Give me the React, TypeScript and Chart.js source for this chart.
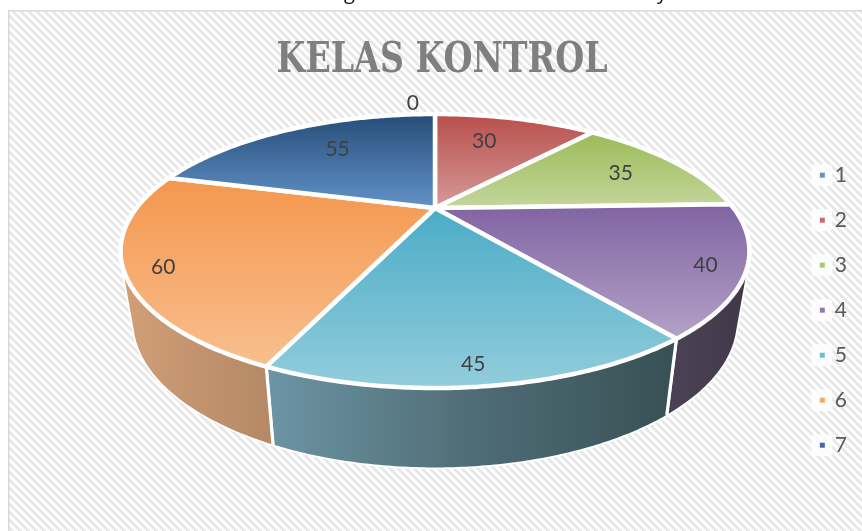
import React, { useEffect, useRef } from "react";
import { Chart, registerables, PieController } from "chart.js";

Chart.register(...registerables);

const categories = ["1", "2", "3", "4", "5", "6", "7"];
const seriesValues = [0, 30, 35, 40, 45, 60, 55];
const legendColors = ["#5f93d0", "#c96b69", "#abc778", "#9579b6", "#6cbcd4", "#f9a564", "#3f6ca3"];
const topFrom = ["#2a4d78", "#b84f4d", "#9bbb59", "#8064a2", "#4bacc6", "#f4974e", "#264d78"];
const topTo = ["#6392c8", "#d69a98", "#c3d69b", "#b3a2c7", "#92cddc", "#f8bf8e", "#6392c8"];
const wallFrom = ["#2a4060", "#7a3a3a", "#6f8a44", "#4b4355", "#6d95a5", "#d1a079", "#2a4060"];
const wallMid = ["#2a4060", "#7a3a3a", "#6f8a44", "#463d50", "#4f6d76", "#c2936e", "#2a4060"];
const wallTo = ["#2a4060", "#7a3a3a", "#6f8a44", "#403746", "#385055", "#b58966", "#2a4060"];
const labelRadii = [1.165, 0.68, 0.75, 0.888, 0.909, 0.895, 0.68];
const labelShiftDeg = [-5, -3.4, 1, 1.5, 1, -2.5, 3];

// perspective of the tilted disc
const HUB_X = 435;
const HUB_Y = 208;
const P = 0.314;
const TOP = { b: 298.5, a: 123.5, y: HUB_Y };
const BOTTOM = { b: 286.5, a: 132, y: 275 };

type Plane = { b: number; a: number; y: number };
const project = (pl: Plane, angle: number, r = 1): [number, number] => {
  const u = Math.cos(angle) * r;
  const v = Math.sin(angle) * r;
  const k = 1 / (1 - P * v);
  return [HUB_X + pl.b * u * k, pl.y + pl.a * v * k];
};

const rimPoints = (pl: Plane, a0: number, a1: number) => {
  const n = Math.max(2, Math.ceil(Math.abs(a1 - a0) / 0.01));
  const pts: [number, number][] = [];
  for (let i = 0; i <= n; i++) pts.push(project(pl, a0 + ((a1 - a0) * i) / n));
  return pts;
};

class Pie3DController extends PieController {
  static id = "pie3d";
  static defaults = PieController.defaults;
  static overrides = PieController.overrides;
  draw() {
    const ctx = (this as any).chart.ctx as CanvasRenderingContext2D;
    const arcs = (this as any)._cachedMeta.data as any[];
    ctx.save();
    ctx.lineJoin = "round";
    // walls first: white halo, then fill
    arcs.forEach((arc, i) => {
      if (arc.endAngle - arc.startAngle <= 0) return;
      const t = rimPoints(TOP, arc.startAngle, arc.endAngle);
      const b = rimPoints(BOTTOM, arc.startAngle, arc.endAngle);
      const xs = [...t, ...b].map((p) => p[0]);
      const g = ctx.createLinearGradient(Math.min(...xs), 0, Math.max(...xs), 0);
      g.addColorStop(0, wallFrom[i]);
      g.addColorStop(0.5, wallMid[i]);
      g.addColorStop(1, wallTo[i]);
      ctx.beginPath();
      for (let k = 0; k < t.length - 1; k++) {
        const q = [t[k], t[k + 1], b[k + 1], b[k]];
        let area = 0;
        for (let m = 0; m < 4; m++) {
          const n = q[(m + 1) % 4];
          area += q[m][0] * n[1] - n[0] * q[m][1];
        }
        const o = area >= 0 ? q : [...q].reverse();
        ctx.moveTo(o[0][0], o[0][1]);
        for (let m = 1; m < 4; m++) ctx.lineTo(o[m][0], o[m][1]);
        ctx.closePath();
      }
      ctx.strokeStyle = "#ffffff";
      ctx.lineWidth = 3.5;
      ctx.stroke();
      ctx.fillStyle = g;
      ctx.fill();
    });
    // white seams between the visible walls
    arcs.forEach((arc) => {
      if (arc.endAngle - arc.startAngle <= 0) return;
      if (Math.sin(arc.endAngle) <= P) return;
      const a = project(TOP, arc.endAngle);
      const c = project(BOTTOM, arc.endAngle);
      ctx.strokeStyle = "#ffffff";
      ctx.lineWidth = 3;
      ctx.beginPath();
      ctx.moveTo(a[0], a[1]);
      ctx.lineTo(c[0], c[1]);
      ctx.stroke();
    });
    // top faces
    arcs.forEach((arc, i) => {
      if (arc.endAngle - arc.startAngle <= 0) return;
      const rim = rimPoints(TOP, arc.startAngle, arc.endAngle);
      const ys = [...rim.map((p) => p[1]), HUB_Y];
      const g = ctx.createLinearGradient(0, Math.min(...ys), 0, Math.max(...ys));
      g.addColorStop(0, topFrom[i]);
      g.addColorStop(1, topTo[i]);
      ctx.beginPath();
      ctx.moveTo(HUB_X, HUB_Y);
      rim.forEach((p) => ctx.lineTo(p[0], p[1]));
      ctx.closePath();
      ctx.fillStyle = g;
      ctx.fill();
      ctx.strokeStyle = "#ffffff";
      ctx.lineWidth = 4.5;
      ctx.stroke();
    });
    // value labels
    ctx.fillStyle = "#404040";
    ctx.font = "21px Lato";
    ctx.textAlign = "center";
    ctx.textBaseline = "middle";
    arcs.forEach((arc, i) => {
      const mid = (arc.startAngle + arc.endAngle) / 2 + (labelShiftDeg[i] * Math.PI) / 180;
      const [x, y] = project(TOP, mid, labelRadii[i]);
      ctx.fillText(String(seriesValues[i]), x, y);
    });
    ctx.restore();
  }
}
Chart.register(Pie3DController as any);

const makeHatch = (ctx: CanvasRenderingContext2D) => {
  const c = document.createElement("canvas");
  const period = 8;
  c.width = period;
  c.height = period;
  const p = c.getContext("2d")!;
  p.fillStyle = "#ffffff";
  p.fillRect(0, 0, period, period);
  p.fillStyle = "#e8e8e8";
  for (let y = 0; y < period; y++)
    for (let x = 0; x < period; x++)
      if (((x - y + period * 2) % period) < 4) p.fillRect(x, y, 1, 1);
  return ctx.createPattern(c, "repeat")!;
};

const TITLE_CENTER = 442;
const TITLE_SQUEEZE = 0.88;

const backdrop = {
  id: "backdrop",
  beforeDraw(chart: any) {
    const ctx = chart.ctx as CanvasRenderingContext2D;
    // the reference title is a narrower face: squeeze the library's title block
    const block = chart.titleBlock;
    if (block && !block.__squeezed) {
      block.__squeezed = true;
      const original = block.draw;
      block.draw = function (...args: any[]) {
        ctx.save();
        ctx.translate(TITLE_CENTER, 0);
        ctx.scale(TITLE_SQUEEZE, 1);
        ctx.translate(-TITLE_CENTER, 0);
        original.apply(this, args);
        ctx.restore();
      };
    }
    ctx.save();
    ctx.fillStyle = "#ffffff";
    ctx.fillRect(0, 0, 862, 531);
    ctx.fillStyle = makeHatch(ctx);
    ctx.fillRect(9, 11, 853, 520);
    ctx.fillStyle = "#d9d9d9";
    ctx.fillRect(8, 10, 854, 1.5);
    ctx.fillRect(8, 10, 1.5, 521);
    // clipped line of text above the chart
    ctx.fillStyle = "#111111";
    ctx.font = "20px 'Open Sans'";
    ctx.textBaseline = "alphabetic";
    ctx.fillText("g", 344, -1);
    ctx.fillText("y", 657, -1);
    // white plates and colour keys of the legend
    const boxes = chart.legend?.legendHitBoxes ?? [];
    boxes.forEach((b: any, i: number) => {
      const cy = b.top + b.height / 2;
      ctx.fillStyle = "rgba(255,255,255,0.8)";
      ctx.beginPath();
      ctx.roundRect(b.left - 13, cy - 11, 21, 22, 4);
      ctx.fill();
      ctx.fillStyle = legendColors[i];
      ctx.fillRect(b.left - 4.5, cy - 2.5, 5, 5);
    });
    ctx.restore();
  },
};

export default function App() {
  const ref = useRef<HTMLCanvasElement>(null);
  useEffect(() => {
    const chart = new Chart(ref.current!, {
      type: "pie3d" as any,
      data: {
        labels: categories,
        datasets: [{ data: seriesValues, backgroundColor: legendColors, borderWidth: 0 }],
      },
      options: {
        animation: false,
        responsive: false,
        maintainAspectRatio: false,
        layout: { padding: { left: 27, right: 5, top: 36, bottom: 0 } },
        plugins: {
          title: {
            display: true,
            text: "KELAS KONTROL",
            color: "#7f7f7f",
            font: { family: "'DejaVu Serif Condensed', 'DejaVu Serif'", size: 42, weight: "bold" },
            padding: { top: 0, bottom: 3 },
          },
          legend: {
            position: "right",
            fullSize: false,
            labels: {
              boxWidth: 0,
              boxHeight: 5,
              padding: 24,
              color: "#595959",
              font: { family: "Lato", size: 21 },
              generateLabels: (c: any) =>
                categories.map((text, i) => ({
                  text,
                  index: i,
                  fillStyle: "rgba(0,0,0,0)",
                  strokeStyle: "rgba(0,0,0,0)",
                  lineWidth: 0,
                  fontColor: "#595959",
                  hidden: !c.getDataVisibility(i),
                })),
            },
          },
          tooltip: { enabled: false },
        },
      } as any,
      plugins: [backdrop],
    });
    return () => chart.destroy();
  }, []);
  return (
    <div style={{ position: "absolute", left: 0, top: 0, width: 862, height: 531 }}>
      <canvas ref={ref} width={862} height={531} style={{ display: "block" }} />
    </div>
  );
}
